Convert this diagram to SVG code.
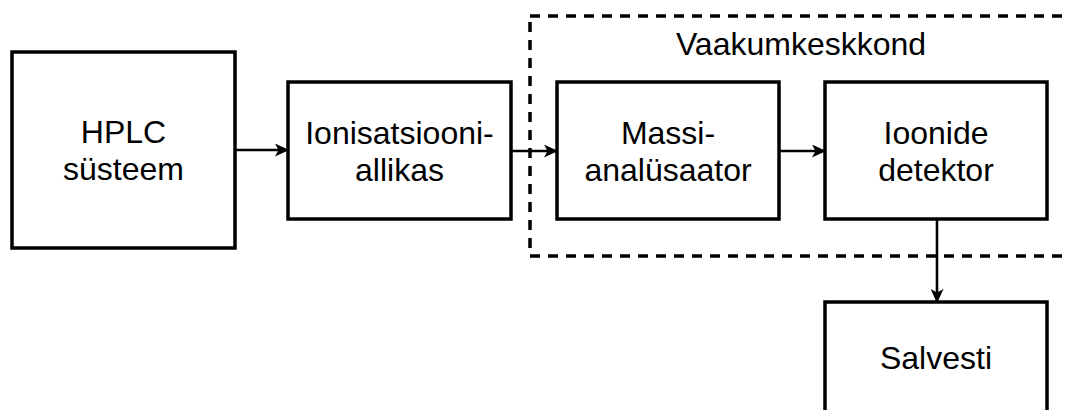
<svg xmlns="http://www.w3.org/2000/svg" width="1067" height="410" viewBox="0 0 1067 410">
<style>
.box{fill:#fff;stroke:#000;stroke-width:3.5}
.lbl{font-family:"Liberation Sans",Arial,sans-serif;font-size:32px;fill:#000;text-anchor:middle}
.edge{fill:none;stroke:#000;stroke-width:2.6}
</style>
<defs>
<marker id="arr" viewBox="0 0 14 13" refX="13" refY="6.5" markerWidth="14" markerHeight="13" markerUnits="userSpaceOnUse" orient="auto">
<path d="M0,0 L14,6.5 L0,13 L3.5,6.5 Z" fill="#000"/>
</marker>
</defs>
<rect width="1067" height="410" fill="#fff"/>
<g id="vaakum">
<rect x="530" y="16" width="560" height="240" fill="none" stroke="#000" stroke-width="3.5" stroke-dasharray="10 8"/>
<text class="lbl" x="801" y="55">Vaakumkeskkond</text>
</g>
<g id="connectors">
<line class="edge" x1="235" y1="150" x2="288" y2="150" marker-end="url(#arr)"/>
<line class="edge" x1="511" y1="151" x2="557" y2="151" marker-end="url(#arr)"/>
<line class="edge" x1="779" y1="151" x2="825" y2="151" marker-end="url(#arr)"/>
<line class="edge" x1="937" y1="219" x2="937" y2="302" marker-end="url(#arr)"/>
</g>
<g id="hplc">
<rect class="box" x="12" y="52" width="223" height="196"/>
<text class="lbl" x="123.5" y="143">HPLC</text>
<text class="lbl" x="123.5" y="180">süsteem</text>
</g>
<g id="ionisatsioon">
<rect class="box" x="288" y="82" width="223" height="137"/>
<text class="lbl" x="399.5" y="144">Ionisatsiooni-</text>
<text class="lbl" x="399.5" y="181">allikas</text>
</g>
<g id="massi">
<rect class="box" x="557" y="82" width="222" height="137"/>
<text class="lbl" x="668" y="144">Massi-</text>
<text class="lbl" x="668" y="181">analüsaator</text>
</g>
<g id="detektor">
<rect class="box" x="825" y="82" width="222" height="137"/>
<text class="lbl" x="936" y="144">Ioonide</text>
<text class="lbl" x="936" y="181">detektor</text>
</g>
<g id="salvesti">
<rect class="box" x="825" y="302" width="222" height="140"/>
<text class="lbl" x="936" y="369">Salvesti</text>
</g>
</svg>
